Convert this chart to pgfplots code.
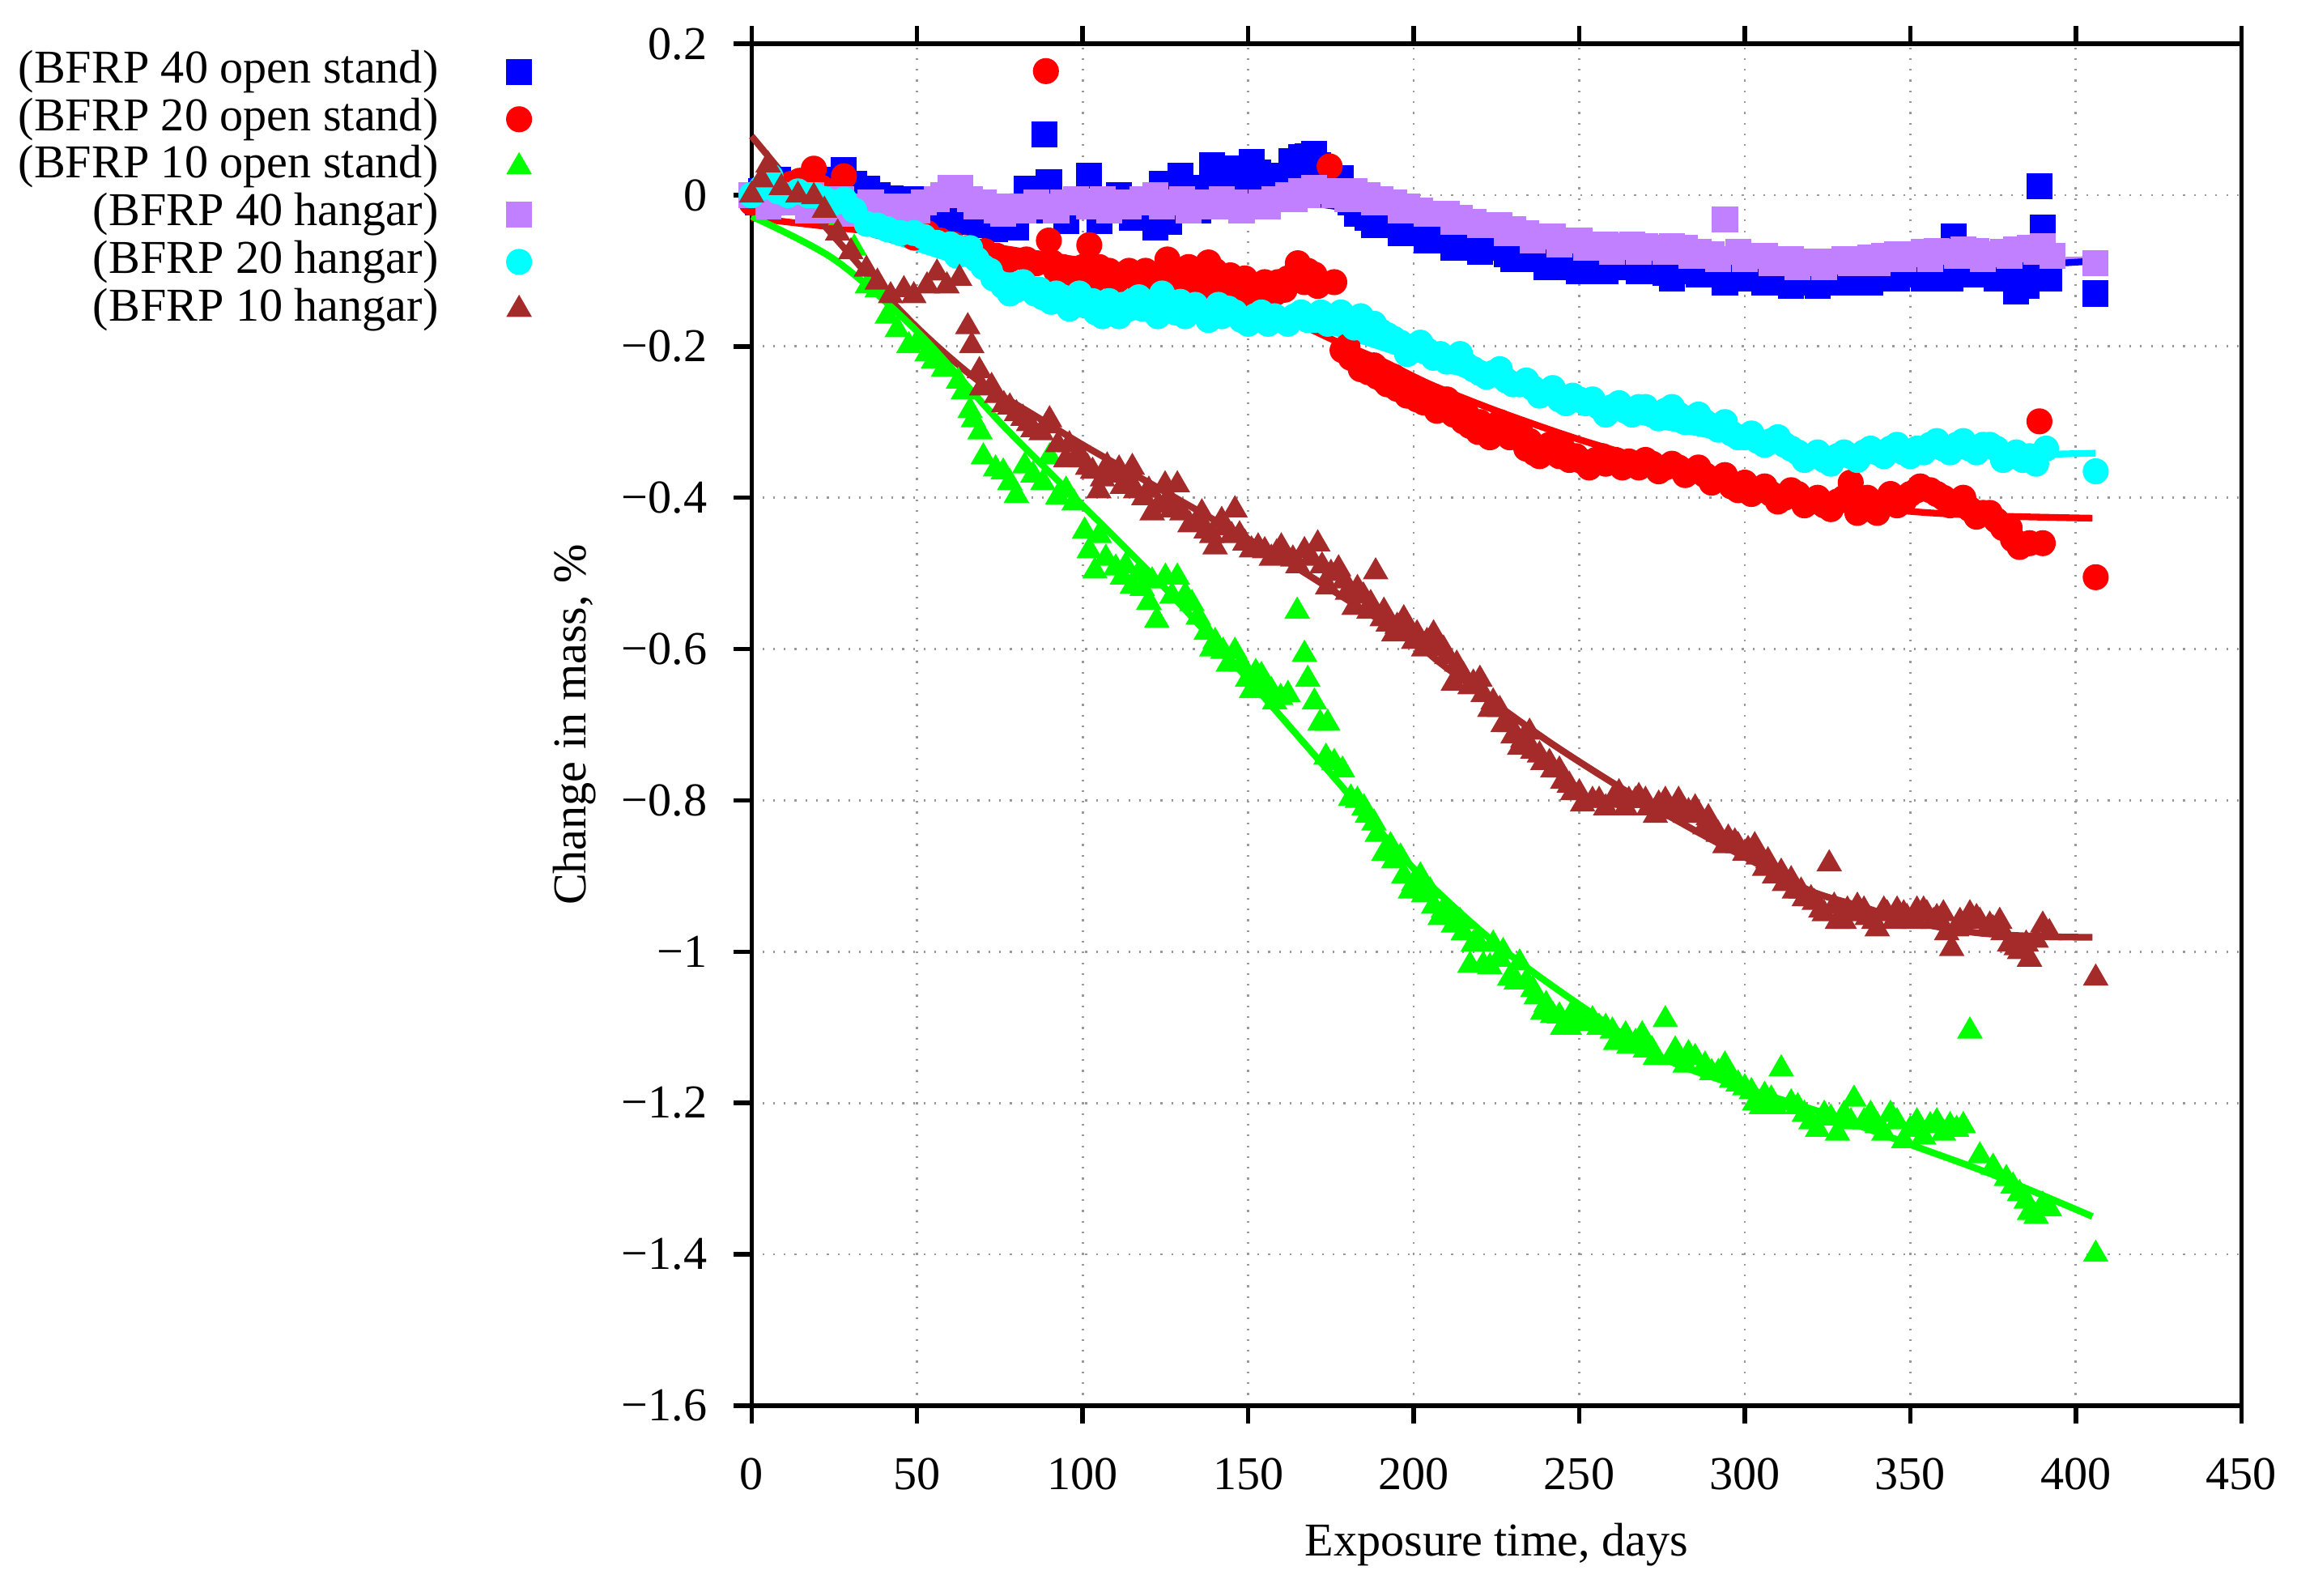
\documentclass[border=0pt]{standalone}
\usepackage{fontspec}
\setmainfont{Liberation Serif}
\usepackage{pgfplots}
\pgfplotsset{compat=1.18}

\definecolor{gpblue}{RGB}{0,0,255}
\definecolor{gpred}{RGB}{255,0,0}
\definecolor{gpgreen}{RGB}{0,255,0}
\definecolor{gppurple}{RGB}{192,128,255}
\definecolor{gpcyan}{RGB}{0,255,255}
\definecolor{gpbrown}{RGB}{165,42,42}

\begin{document}
\fontsize{10.5}{12.6}\selectfont
\begin{tikzpicture}[font=\fontsize{10.5}{12.6}\selectfont]
\begin{axis}[
  scale only axis,
  width=11.675cm, height=10.67cm,
  xmin=0, xmax=450, ymin=-1.6, ymax=0.2,
  xtick={0,50,...,450},
  ytick={-1.6,-1.4,-1.2,-1,-0.8,-0.6,-0.4,-0.2,0,0.2},
  yticklabels={−1.6,−1.4,−1.2,−1,−0.8,−0.6,−0.4,−0.2,0,0.2},
  /pgf/number format/assume math mode=true,
  xtick pos=both, xticklabel pos=lower,
  ytick pos=left,
  tick align=outside,
  major tick length=0.14cm,
  tick style={black, line width=1pt},
  axis line style={line width=1pt},
  grid=major,
  grid style={dotted, gray!80, line width=0.5pt},
  xticklabel style={yshift=-0.14cm},
  yticklabel style={xshift=-0.08cm},
  xlabel={Exposure time, days},
  ylabel={Change in mass, \%},
  xlabel style={at={(axis description cs:0.5,-0.102)}, anchor=center},
  ylabel style={at={(axis description cs:-0.119,0.5)}, anchor=center},
  clip=false,
  legend plot pos=right,
  legend cell align=right,
  legend style={draw=none, fill=none, inner sep=0pt,
    at={(0,1)}, anchor=north east, xshift=-1.72cm, yshift=-0.025cm,
    row sep=0pt,
    nodes={inner sep=0.5pt, text height=7.3pt, text depth=2.3pt},
    /tikz/every odd column/.append style={column sep=0.52cm}},
]

% BFRP 40 open stand
\addplot[only marks, mark=square*, mark size=2.7pt, color=gpblue] table {
0 0.0
3 0.005
6 -0.005
9 0.01
12 0.015
15 0.0
18 0.005
21 0.02
24 0.01
27.9 0.033
31 0.015
34.8 0.008
38 0.0
42 -0.004
46 -0.015
50 -0.01
53 -0.02
56 -0.034
59 -0.015
61.8 -0.02
65 -0.03
69 -0.04
73.5 -0.045
77 -0.035
80 -0.043
83 0.008
86 -0.02
88.5 0.08
89.8 0.017
92 -0.01
95 -0.034
98 -0.01
102 0.026
105 -0.034
108 -0.01
111 0.0
115 -0.03
118 -0.02
122 -0.043
124 0.015
127 -0.02
129.5 0.026
132 -0.01
135 -0.02
139 0.04
142 0.02
144 0.026
148 0.01
151 0.044
154 0.02
157 0.026
160 0.0
163 0.045
166 0.05
168 0.051
171 0.04
174 0.01
178 0.022
181 -0.01
183 -0.024
186 -0.03
189 -0.035
193 -0.04
197 -0.045
201 -0.05
205 -0.052
209 -0.06
213 -0.065
217 -0.07
221 -0.068
224 -0.07
228 -0.078
232 -0.082
237 -0.085
242 -0.09
247 -0.095
251 -0.09
255 -0.095
259 -0.09
263 -0.095
266 -0.095
270 -0.1
273 -0.095
276 -0.103
280 -0.1
284 -0.095
288 -0.1
292 -0.105
296 -0.1
300 -0.11
304 -0.105
308 -0.11
312 -0.115
316 -0.11
320 -0.115
324 -0.11
328 -0.115
332 -0.11
336 -0.105
340 -0.11
344 -0.105
348 -0.1
352 -0.105
356 -0.1
360 -0.105
363 -0.055
366 -0.095
370 -0.1
374 -0.105
378 -0.1
382 -0.127
385 -0.12
387 -0.11
389 0.012
390 -0.043
392 -0.11
406 -0.13
2 -0.01
8 0.02
14 -0.01
20 0.0
26 0.02
33 -0.005
40 -0.02
48 -0.005
55 -0.01
63 -0.035
67 -0.02
71 -0.03
75 -0.025
79 -0.03
100 -0.015
113 -0.01
120 -0.005
126 -0.035
131 0.01
137 0.01
146 0.035
153 0.03
159 0.015
162 0.02
165 0.03
170 0.055
173 0.03
176 0.0
184 -0.015
188 -0.04
192 -0.03
196 -0.05
200 -0.04
204 -0.06
208 -0.05
212 -0.07
216 -0.06
220 -0.075
226 -0.065
230 -0.085
235 -0.075
240 -0.095
245 -0.085
250 -0.1
254 -0.085
258 -0.1
262 -0.085
268 -0.1
272 -0.09
278 -0.11
282 -0.095
286 -0.105
290 -0.095
294 -0.115
298 -0.105
302 -0.1
306 -0.115
310 -0.105
314 -0.12
318 -0.1
322 -0.12
326 -0.1
330 -0.115
334 -0.1
338 -0.115
342 -0.1
346 -0.11
350 -0.095
354 -0.11
358 -0.095
362 -0.11
368 -0.105
372 -0.095
376 -0.11
380 -0.095
384 -0.105
};
\addlegendentry{(BFRP 40 open stand)}

% BFRP 20 open stand
\addplot[only marks, mark=*, mark size=2.7pt, color=gpred] table {
0 -0.01
3 0.0
6 0.01
9 0.0
12 0.015
14.5 0.019
18.8 0.035
21 0.01
24 0.005
27.9 0.025
31 -0.02
34.8 -0.034
38 -0.04
42 -0.045
46 -0.05
49 -0.056
53 -0.05
57 -0.06
61 -0.065
65 -0.07
70.4 -0.074
74 -0.08
78 -0.085
83 -0.085
86 -0.09
88.9 0.164
89.8 -0.06
90.8 -0.089
94 -0.095
98 -0.1
102 -0.066
105 -0.095
108 -0.1
112 -0.105
116 -0.11
119 -0.1
121.8 -0.12
125.6 -0.085
128 -0.1
132 -0.095
135 -0.11
138 -0.089
141 -0.11
144.6 -0.106
147 -0.12
150 -0.125
153 -0.12
156 -0.13
159 -0.115
162 -0.11
165 -0.09
168 -0.1
171 -0.12
174.6 0.038
176 -0.115
178.5 -0.205
181 -0.215
183 -0.22
186.3 -0.234
189 -0.24
192 -0.25
195 -0.256
198 -0.265
201 -0.27
203 -0.274
206 -0.278
209 -0.28
212 -0.29
215 -0.299
217 -0.305
219.5 -0.313
222 -0.31
225 -0.31
228 -0.306
231 -0.32
234 -0.335
236.5 -0.341
239 -0.335
241 -0.33
244 -0.345
247 -0.35
251 -0.352
255 -0.35
258 -0.355
261 -0.35
265 -0.352
268 -0.36
272 -0.355
276 -0.36
280 -0.36
284 -0.365
288 -0.37
292 -0.375
296 -0.385
300 -0.38
304 -0.39
308 -0.395
312 -0.4
316 -0.395
320 -0.405
324 -0.41
328 -0.405
332 -0.38
335 -0.41
338 -0.415
342 -0.405
346 -0.41
350 -0.395
353 -0.385
356 -0.39
360 -0.4
364 -0.405
368 -0.415
372 -0.42
376 -0.43
380 -0.44
383 -0.465
386 -0.46
389 -0.299
390 -0.46
406 -0.505
92 -0.1
96 -0.11
100 -0.095
104 -0.11
110 -0.115
114 -0.1
118 -0.12
123 -0.11
127 -0.115
130 -0.125
134 -0.1
137 -0.12
140 -0.1
143 -0.125
146 -0.135
149 -0.11
152 -0.135
155 -0.115
158 -0.13
161 -0.125
164 -0.105
167 -0.115
170 -0.105
180 -0.2
184 -0.23
188 -0.225
191 -0.245
194 -0.24
197 -0.255
200 -0.26
204 -0.265
207 -0.285
210 -0.27
213 -0.28
216 -0.29
220 -0.3
223 -0.32
226 -0.3
229 -0.32
232 -0.31
235 -0.325
238 -0.345
242 -0.34
245 -0.335
249 -0.345
253 -0.36
257 -0.345
263 -0.36
270 -0.35
274 -0.365
278 -0.355
282 -0.37
286 -0.36
290 -0.38
294 -0.37
298 -0.39
302 -0.395
306 -0.385
310 -0.405
314 -0.39
318 -0.41
322 -0.4
326 -0.415
330 -0.4
334 -0.42
337 -0.4
340 -0.42
344 -0.395
348 -0.405
352 -0.39
358 -0.395
362 -0.41
366 -0.4
370 -0.425
374 -0.42
378 -0.44
381 -0.455
};
\addlegendentry{(BFRP 20 open stand)}

% BFRP 10 open stand
\addplot[only marks, mark=triangle*, mark size=2.9pt, color=gpgreen] table {
0 0.0
4 -0.005
8 -0.01
12 -0.015
16 -0.01
20 -0.02
24 -0.025
27 -0.03
31 -0.07
35 -0.12
38 -0.125
41 -0.16
44 -0.178
47.5 -0.199
50 -0.195
53 -0.21
55 -0.219
58 -0.23
62.5 -0.246
64 -0.26
66 -0.285
67 -0.297
69 -0.313
70 -0.346
73.7 -0.362
76 -0.366
78 -0.38
80 -0.397
82.5 -0.358
85 -0.37
88 -0.38
90 -0.346
92.5 -0.399
95 -0.39
97.4 -0.407
100.6 -0.444
102 -0.47
103.7 -0.497
107 -0.48
110 -0.493
112 -0.505
115 -0.517
118 -0.52
120 -0.538
122.4 -0.562
125 -0.505
128.6 -0.505
131 -0.529
134.9 -0.558
137.3 -0.578
140 -0.59
142.4 -0.603
146 -0.603
149.8 -0.64
152.3 -0.631
155 -0.65
157 -0.655
159.8 -0.664
162 -0.66
164.8 -0.55
167 -0.607
168 -0.64
170 -0.67
171.7 -0.698
173.5 -0.743
174 -0.698
176 -0.75
178.5 -0.76
181 -0.797
183 -0.8
186 -0.82
189 -0.845
191 -0.87
194 -0.88
197 -0.9
200 -0.91
203 -0.925
206 -0.94
209 -0.945
212 -0.965
215 -0.975
217 -1.018
219 -0.985
221 -1.018
224 -0.99
227 -1.0
229 -1.035
232 -1.015
234 -1.04
237 -1.06
240 -1.07
242 -1.084
245 -1.1
248 -1.08
251 -1.095
254 -1.09
258 -1.1
261 -1.12
264 -1.11
267 -1.12
270 -1.13
273 -1.14
276 -1.09
279 -1.13
282 -1.15
285 -1.14
288 -1.15
292 -1.16
296 -1.17
300 -1.18
303 -1.2
306 -1.19
309 -1.205
311 -1.155
314 -1.2
318 -1.215
322 -1.235
326 -1.22
330 -1.215
333 -1.195
336 -1.225
340 -1.23
344 -1.215
348 -1.25
352 -1.225
356 -1.23
360 -1.24
364 -1.235
366 -1.23
368 -1.105
371 -1.27
375 -1.285
379 -1.3
383 -1.32
386 -1.345
388 -1.35
390 -1.335
392 -1.34
406 -1.4
105 -0.45
113 -0.49
117 -0.5
121 -0.51
127 -0.53
133 -0.54
139 -0.6
144 -0.62
148 -0.62
151 -0.655
154 -0.635
158 -0.67
185 -0.81
188 -0.83
193 -0.86
196 -0.875
199 -0.92
202 -0.9
205 -0.92
208 -0.955
211 -0.95
214 -0.96
218 -0.99
223 -1.02
226 -1.01
231 -1.04
236 -1.05
239 -1.08
244 -1.085
247 -1.1
250 -1.085
256 -1.1
260 -1.105
265 -1.125
269 -1.11
272 -1.13
278 -1.14
283 -1.135
290 -1.16
294 -1.15
298 -1.175
302 -1.185
305 -1.205
308 -1.195
316 -1.205
320 -1.225
324 -1.215
328 -1.24
332 -1.225
338 -1.215
342 -1.24
346 -1.225
350 -1.235
354 -1.245
358 -1.225
362 -1.23
381 -1.31
385 -1.33
};
\addlegendentry{(BFRP 10 open stand)}

% BFRP 40 hangar
\addplot[only marks, mark=square*, mark size=2.7pt, color=gppurple] table {
0 0.0
3 0.0
6 -0.005
9 -0.01
12 -0.005
15 -0.01
18 0.0
21 -0.015
24 -0.01
27 -0.005
30 -0.015
33 -0.02
36 -0.01
40 -0.015
44 -0.02
48 -0.015
52 -0.01
56 -0.005
60 0.01
63 0.01
66 -0.005
70 -0.01
74 -0.02
78 -0.015
82 -0.02
86 -0.01
90 -0.015
94 -0.01
98 -0.005
102 -0.015
106 -0.005
110 -0.01
114 -0.015
118 -0.005
122 0.0
126 -0.01
130 -0.005
134 -0.015
138 -0.01
142 -0.005
146 -0.01
150 -0.015
154 -0.01
158 -0.005
162 0.0
166 0.005
170 0.01
174 0.005
178 0.0
182 0.005
186 0.0
190 -0.005
194 -0.01
198 -0.015
202 -0.02
206 -0.025
210 -0.025
214 -0.03
218 -0.035
222 -0.04
226 -0.04
230 -0.045
234 -0.05
238 -0.055
242 -0.055
246 -0.06
250 -0.06
254 -0.065
258 -0.065
262 -0.068
266 -0.065
270 -0.068
274 -0.07
278 -0.068
282 -0.07
286 -0.075
290 -0.078
294 -0.032
298 -0.075
302 -0.08
306 -0.08
310 -0.085
314 -0.085
318 -0.088
322 -0.09
326 -0.088
330 -0.085
334 -0.085
338 -0.082
342 -0.08
346 -0.078
350 -0.078
354 -0.075
358 -0.074
362 -0.075
366 -0.072
370 -0.074
374 -0.078
378 -0.075
382 -0.072
386 -0.07
390 -0.068
393 -0.08
406 -0.09
5 -0.015
11 0.0
17 -0.02
23 -0.02
29 -0.025
35 -0.02
42 -0.025
50 -0.02
58 0.0
62 0.0
68 -0.015
76 -0.025
84 -0.015
92 -0.02
100 -0.01
108 -0.02
116 -0.01
124 -0.015
132 -0.02
140 -0.015
148 -0.02
156 -0.015
164 -0.005
168 0.0
172 0.005
176 0.0
180 -0.005
184 -0.005
188 -0.01
196 -0.02
204 -0.025
212 -0.035
220 -0.04
228 -0.05
236 -0.06
244 -0.065
252 -0.07
260 -0.075
268 -0.075
276 -0.075
284 -0.08
292 -0.085
300 -0.085
308 -0.09
316 -0.095
324 -0.095
332 -0.09
340 -0.09
348 -0.085
356 -0.085
364 -0.08
372 -0.085
380 -0.08
388 -0.075
};
\addlegendentry{(BFRP 40 hangar)}

% BFRP 20 hangar
\addplot[only marks, mark=*, mark size=2.7pt, color=gpcyan] table {
0 0.0
3 0.01
5.7 0.025
8 0.005
11 0.0
14 0.005
17 0.0
19 0.0
22 -0.005
25 -0.01
28 -0.006
31 -0.02
34.8 -0.038
38 -0.04
41 -0.045
45 -0.05
49 -0.05
52 -0.055
56 -0.063
60 -0.065
63 -0.07
66 -0.07
70 -0.095
73 -0.11
76 -0.12
80 -0.125
83 -0.12
85.6 -0.13
88 -0.135
90.5 -0.141
94 -0.135
97 -0.14
100 -0.145
103 -0.14
106 -0.16
109 -0.15
112 -0.145
115 -0.14
118 -0.15
122.7 -0.16
126 -0.15
129.5 -0.141
132 -0.15
136 -0.155
139 -0.16
142 -0.16
144 -0.15
148 -0.165
152 -0.16
156 -0.17
160 -0.165
164 -0.16
168 -0.165
172 -0.155
176 -0.16
180 -0.165
184 -0.16
188 -0.17
192 -0.185
196 -0.195
200 -0.2
204 -0.205
208 -0.21
212 -0.22
216 -0.225
220 -0.235
224 -0.235
228 -0.245
232 -0.25
236 -0.255
240 -0.26
244 -0.27
248 -0.265
252 -0.275
256 -0.28
260 -0.28
264 -0.285
268 -0.28
272 -0.29
276 -0.285
280 -0.29
284 -0.295
288 -0.3
292 -0.31
296 -0.315
300 -0.32
304 -0.325
308 -0.325
312 -0.33
316 -0.34
320 -0.345
324 -0.35
328 -0.345
332 -0.345
336 -0.34
340 -0.34
344 -0.335
348 -0.34
352 -0.335
356 -0.33
360 -0.335
364 -0.33
368 -0.335
372 -0.33
376 -0.335
380 -0.345
384 -0.35
388 -0.355
391 -0.335
406 -0.365
62 -0.08
68 -0.085
72 -0.1
78 -0.13
82 -0.115
87 -0.125
92 -0.13
96 -0.15
99 -0.13
104 -0.155
108 -0.14
111 -0.16
114 -0.15
117 -0.135
120 -0.145
124 -0.13
128 -0.155
131 -0.16
134 -0.145
138 -0.165
141 -0.145
146 -0.155
150 -0.17
154 -0.155
158 -0.16
162 -0.17
166 -0.155
170 -0.165
174 -0.17
178 -0.155
182 -0.175
186 -0.18
190 -0.18
194 -0.19
198 -0.21
202 -0.195
206 -0.215
210 -0.22
214 -0.21
218 -0.23
222 -0.24
226 -0.23
230 -0.25
234 -0.245
238 -0.265
242 -0.255
246 -0.275
250 -0.27
254 -0.27
258 -0.29
262 -0.275
266 -0.29
270 -0.28
274 -0.295
278 -0.28
282 -0.3
286 -0.29
290 -0.305
294 -0.3
298 -0.32
302 -0.315
306 -0.33
310 -0.32
314 -0.335
318 -0.35
322 -0.34
326 -0.355
330 -0.34
334 -0.35
338 -0.335
342 -0.345
346 -0.33
350 -0.345
354 -0.34
358 -0.325
362 -0.34
366 -0.325
370 -0.34
374 -0.33
378 -0.35
382 -0.34
386 -0.345
};
\addlegendentry{(BFRP 20 hangar)}

% BFRP 10 hangar
\addplot[only marks, mark=triangle*, mark size=2.9pt, color=gpbrown] table {
0 0.0
3 0.02
5 0.04
9 0.01
14 0.0
18.8 -0.002
22 -0.02
26 -0.05
30 -0.075
34.7 -0.098
38 -0.115
42 -0.133
46 -0.125
49 -0.133
53 -0.12
56 -0.103
59 -0.12
62.8 -0.11
65.3 -0.174
66.5 -0.199
68.8 -0.232
72.5 -0.253
76.2 -0.277
80 -0.289
83.7 -0.302
87.5 -0.314
90 -0.297
92.5 -0.33
94.9 -0.35
98.7 -0.342
101.5 -0.36
104.9 -0.391
107.4 -0.358
111 -0.362
113.5 -0.375
116 -0.391
118.5 -0.4
121 -0.42
124.9 -0.383
127 -0.416
128.6 -0.383
132.4 -0.436
134.8 -0.43
137.3 -0.444
140 -0.465
143 -0.44
146 -0.416
147.4 -0.449
151 -0.469
155 -0.47
158.6 -0.473
161 -0.476
163.5 -0.481
167 -0.47
171 -0.461
172.3 -0.49
174 -0.518
177.3 -0.494
180 -0.525
182 -0.545
184.8 -0.53
186.5 -0.55
188.5 -0.498
190.5 -0.56
192.3 -0.567
195 -0.57
198.5 -0.575
201 -0.58
204 -0.59
207 -0.596
210 -0.61
212 -0.645
215 -0.635
218 -0.645
221 -0.66
224 -0.67
227 -0.7
230 -0.715
233 -0.72
236 -0.735
239 -0.75
242 -0.76
245 -0.775
248 -0.79
251 -0.805
254 -0.8
258 -0.81
262 -0.79
265 -0.8
268 -0.795
271 -0.81
274 -0.805
277 -0.81
280 -0.8
283 -0.815
286 -0.82
289 -0.823
292 -0.845
295 -0.85
298 -0.86
301 -0.865
304 -0.875
307 -0.88
309 -0.9
312 -0.91
315 -0.92
318 -0.93
321 -0.935
323 -0.945
325.5 -0.884
328 -0.96
331 -0.945
334 -0.94
337 -0.955
340 -0.97
343 -0.95
346 -0.945
349 -0.955
352 -0.945
355 -0.95
358 -0.955
361 -0.975
362.5 -0.996
365 -0.96
368 -0.95
371 -0.96
374 -0.965
377 -0.96
380 -0.99
383 -1.0
386 -1.01
388 -0.985
390 -0.965
392 -0.975
406 -1.035
69.5 -0.255
74 -0.265
78 -0.28
82 -0.295
85 -0.31
89 -0.305
96 -0.33
100 -0.35
103 -0.365
106 -0.375
109 -0.37
112 -0.385
115 -0.36
120 -0.39
123 -0.41
126 -0.4
130 -0.42
136 -0.42
139 -0.45
142 -0.43
145 -0.45
149 -0.46
153 -0.465
157 -0.48
160 -0.465
165 -0.49
169 -0.48
175 -0.5
179 -0.51
183 -0.52
187 -0.54
191 -0.55
194 -0.58
197 -0.56
200 -0.59
203 -0.6
206 -0.58
209 -0.6
213 -0.62
217 -0.65
220 -0.64
223 -0.68
226 -0.68
229 -0.7
232 -0.73
235 -0.71
238 -0.74
241 -0.75
244 -0.76
247 -0.78
250 -0.79
256 -0.8
260 -0.8
264 -0.81
267 -0.8
270 -0.8
273 -0.82
276 -0.8
279 -0.815
282 -0.82
285 -0.81
288 -0.835
291 -0.84
294 -0.86
297 -0.855
300 -0.87
303 -0.86
306 -0.89
311 -0.895
314 -0.905
317 -0.92
320 -0.93
324 -0.95
327 -0.94
330 -0.96
333 -0.95
336 -0.945
339 -0.96
342 -0.945
345 -0.96
348 -0.95
351 -0.96
354 -0.945
357 -0.96
360 -0.95
364 -0.97
367 -0.96
370 -0.955
375 -0.97
378 -0.975
382 -0.995
385 -0.99
};
\addlegendentry{(BFRP 10 hangar)}

% fitted curves
\addplot[gppurple, line width=1.5pt, smooth, forget plot] coordinates {
(0,-0.015) (50,-0.01) (100,-0.005) (150,0.0) (175,-0.01) (200,-0.025)
(250,-0.06) (300,-0.085) (350,-0.09) (406,-0.085)
};
\addplot[gpblue, line width=1.5pt, smooth, forget plot] coordinates {
(0,-0.025) (25,-0.018) (50,-0.01) (75,-0.003) (100,0.002) (125,0.004)
(150,0.0) (175,-0.014) (200,-0.03) (225,-0.048) (250,-0.066) (275,-0.082)
(300,-0.096) (325,-0.103) (350,-0.1) (375,-0.095) (406,-0.087)
};
\addplot[gpcyan, line width=1.5pt, smooth, forget plot] coordinates {
(0,-0.002) (25,-0.035) (47,-0.066) (71,-0.098) (100,-0.125) (125,-0.14)
(150,-0.155) (175,-0.18) (200,-0.215) (225,-0.25) (250,-0.28) (275,-0.305)
(300,-0.325) (325,-0.338) (350,-0.344) (375,-0.344) (406,-0.341)
};
\addplot[gpred, line width=1.5pt, smooth, forget plot] coordinates {
(0,-0.03) (30,-0.045) (60,-0.06) (90,-0.08) (120,-0.1) (140,-0.12)
(155,-0.148) (175,-0.19) (190,-0.218) (205,-0.25) (225,-0.285) (250,-0.323)
(275,-0.355) (300,-0.385) (325,-0.405) (350,-0.418) (375,-0.424) (405,-0.427)
};
\addplot[gpbrown, line width=1.5pt, smooth, forget plot] coordinates {
(0,0.078) (10,0.025) (20,-0.03) (30,-0.08) (40,-0.13) (50,-0.175)
(60,-0.215) (70,-0.25) (85,-0.29) (100,-0.33) (120,-0.38) (140,-0.43)
(160,-0.48) (180,-0.535) (200,-0.59) (210,-0.625) (240,-0.72) (265,-0.79)
(285,-0.84) (300,-0.875) (320,-0.92) (335,-0.94) (350,-0.96) (370,-0.975)
(390,-0.98) (405,-0.981)
};
\addplot[gpgreen, line width=1.5pt, smooth, forget plot] coordinates {
(0,-0.028) (25,-0.085) (50,-0.18) (75,-0.3) (100,-0.41) (125,-0.52)
(150,-0.64) (175,-0.765) (200,-0.89) (225,-0.99) (250,-1.07) (275,-1.14)
(300,-1.18) (325,-1.215) (350,-1.255) (375,-1.295) (405,-1.35)
};
\end{axis}
\pgfresetboundingbox
\path ([shift={(-5.89cm,-1.49cm)}]current axis.south west)
  rectangle ([shift={(0.436cm,0.344cm)}]current axis.north east);
\end{tikzpicture}
\end{document}
